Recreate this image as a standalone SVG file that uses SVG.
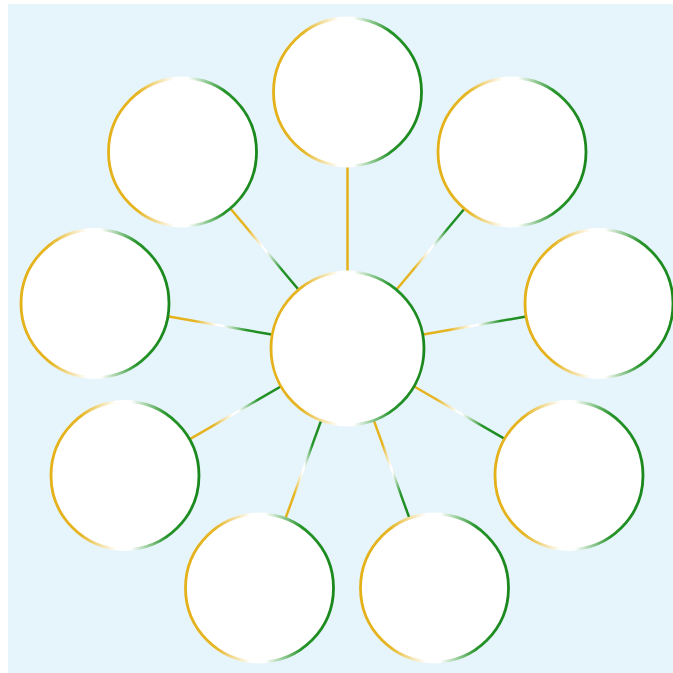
<svg xmlns="http://www.w3.org/2000/svg" width="673" height="673" viewBox="0 0 673 673">
  <defs>
    <linearGradient id="ring" x1="0" y1="0" x2="1" y2="0">
      <stop offset="0" stop-color="#e4b118"/>
      <stop offset="0.2" stop-color="#e6b522"/>
      <stop offset="0.44" stop-color="#ffffff"/>
      <stop offset="0.54" stop-color="#ffffff"/>
      <stop offset="0.78" stop-color="#26952a"/>
      <stop offset="1" stop-color="#1a881c"/>
    </linearGradient>
    <linearGradient id="link" x1="0" y1="0" x2="1" y2="0">
      <stop offset="0" stop-color="#e4b118"/>
      <stop offset="0.25" stop-color="#e6b522"/>
      <stop offset="0.47" stop-color="#ffffff"/>
      <stop offset="0.53" stop-color="#ffffff"/>
      <stop offset="0.75" stop-color="#26952a"/>
      <stop offset="1" stop-color="#1a881c"/>
    </linearGradient>
  </defs>
  <style>
    .node { fill: #ffffff; stroke: url(#ring); stroke-width: 2.8; }
    .edge { fill: none; stroke: url(#link); stroke-width: 2.5; }
    .edge.v { stroke: #e4b118; }
  </style>
  <rect x="8" y="4" width="665" height="669" fill="#e6f4fb"/>
  <g id="connectors">
    <line class="edge v" x1="347.5" y1="271" x2="347.5" y2="166.5"/>
    <line class="edge" x1="397.0" y1="289.0" x2="464.2" y2="209.0"/>
    <line class="edge" x1="423.3" y1="334.6" x2="526.2" y2="316.5"/>
    <line class="edge" x1="414.2" y1="386.5" x2="504.7" y2="438.8"/>
    <line class="edge" x1="373.8" y1="420.4" x2="409.6" y2="518.6"/>
    <line class="edge" x1="285.4" y1="518.6" x2="321.2" y2="420.4"/>
    <line class="edge" x1="190.3" y1="438.8" x2="280.8" y2="386.5"/>
    <line class="edge" x1="168.8" y1="316.5" x2="271.7" y2="334.6"/>
    <line class="edge" x1="230.8" y1="209.0" x2="298.0" y2="289.0"/>
  </g>
  <g id="hub"><circle class="node" cx="347.5" cy="348.5" r="76.5"/></g>
  <g id="n0"><circle class="node" cx="347.5" cy="92" r="74"/></g>
  <g id="n1"><circle class="node" cx="512" cy="152" r="74"/></g>
  <g id="n2"><circle class="node" cx="599" cy="303.5" r="74"/></g>
  <g id="n3"><circle class="node" cx="569" cy="475.5" r="74"/></g>
  <g id="n4"><circle class="node" cx="434.5" cy="588" r="74"/></g>
  <g id="n5"><circle class="node" cx="259.5" cy="588" r="74"/></g>
  <g id="n6"><circle class="node" cx="125" cy="475.5" r="74"/></g>
  <g id="n7"><circle class="node" cx="95" cy="303.5" r="74"/></g>
  <g id="n8"><circle class="node" cx="182.5" cy="152" r="74"/></g>
</svg>
